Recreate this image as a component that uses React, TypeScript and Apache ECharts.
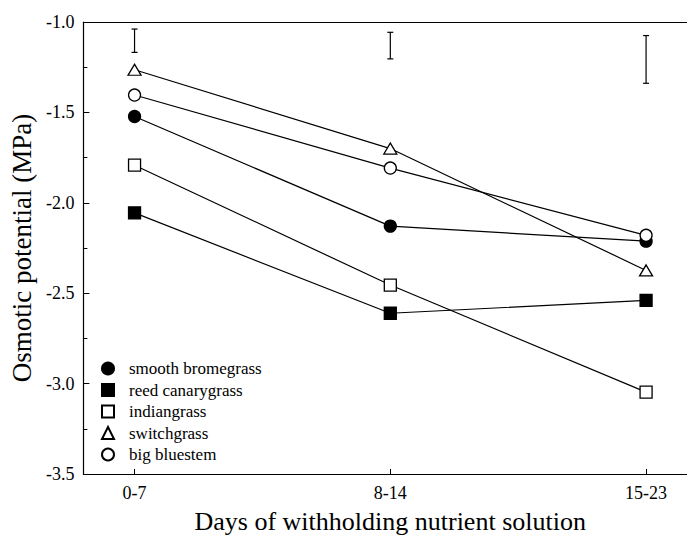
import React, { useEffect, useRef } from "react";
import * as echarts from "echarts";

const categories = ["0-7", "8-14", "15-23"];
const smoothBromegrass = [-1.523, -2.129, -2.212];
const reedCanarygrass = [-2.056, -2.611, -2.54];
const indiangrass = [-1.792, -2.455, -3.047];
const switchgrass = [-1.264, -1.7, -2.374];
const bigBluestem = [-1.404, -1.808, -2.18];
// error bars: [categoryIndex, top, bottom]
const errorBars = [
  [0, -1.039, -1.168],
  [1, -1.057, -1.204],
  [2, -1.075, -1.339],
];
const yTicks = [-3.5, -3.0, -2.5, -2.0, -1.5, -1.0];

const FONT = "Liberation Serif";

export default function App() {
  const ref = useRef<HTMLDivElement>(null);
  useEffect(() => {
    if (!ref.current) return;
    const chart = echarts.init(ref.current, undefined, { renderer: "svg" });
    const lineStyle = { color: "#000", width: 1.2 };
    const mk = (name: string, data: number[], symbol: string, filled: boolean, size: any) => ({
      name,
      type: "line",
      data: data.map((v, i) => [i, v]),
      symbol,
      symbolSize: size,
      lineStyle,
      itemStyle: { color: filled ? "#000" : "#fff", borderColor: "#000", borderWidth: 1.3 },
      z: 3,
    });
    chart.setOption({
      animation: false,
      backgroundColor: "#fff",
      grid: { left: 82, right: 0, top: 22, bottom: 53 },
      xAxis: [
        {
          type: "value",
          min: -0.2,
          max: 2.16,
          axisLine: { show: true, onZero: false, lineStyle: { color: "#000", width: 1.2 } },
          splitLine: { show: false },
          axisTick: { show: true, inside: true, length: 5, customValues: [0, 1, 2], lineStyle: { color: "#000" } },
          axisLabel: {
            customValues: [0, 1, 2],
            formatter: (v: number) => categories[Math.round(v)] ?? "",
            color: "#000",
            fontFamily: FONT,
            fontSize: 18,
            margin: 10,
          },
          name: "Days of withholding nutrient solution",
          nameLocation: "middle",
          nameGap: 34,
          nameTextStyle: { color: "#000", fontFamily: FONT, fontSize: 26, padding: [0, 0, 0, 10] },
        },
        {
          type: "value",
          position: "top",
          min: -0.2,
          max: 2.16,
          axisLine: { show: true, onZero: false, lineStyle: { color: "#000", width: 1.2 } },
          axisTick: { show: false },
          axisLabel: { show: false },
          splitLine: { show: false },
        },
      ],
      yAxis: {
        type: "value",
        min: -3.5,
        max: -1.0,
        interval: 0.5,
        axisLine: { show: true, onZero: false, lineStyle: { color: "#000", width: 1.2 } },
        splitLine: { show: false },
        axisTick: { show: true, inside: true, length: 6, lineStyle: { color: "#000" } },
        minorTick: { show: true, splitNumber: 2, length: 4, lineStyle: { color: "#000" } },
        axisLabel: {
          formatter: (v: number) => (yTicks.includes(v) ? v.toFixed(1) : ""),
          color: "#000",
          fontFamily: FONT,
          fontSize: 18,
          margin: 9,
        },
        name: "Osmotic potential (MPa)",
        nameLocation: "middle",
        nameGap: 46,
        nameTextStyle: { color: "#000", fontFamily: FONT, fontSize: 27 },
      },
      legend: {
        orient: "vertical",
        left: 101,
        top: 360,
        padding: 0,
        itemWidth: 12,
        itemHeight: 12,
        itemGap: 4.5,
        textStyle: { color: "#000", fontFamily: FONT, fontSize: 17, padding: [0, 0, 0, 10] },
        data: [
          { name: "smooth bromegrass", icon: "circle" },
          { name: "reed canarygrass", icon: "rect" },
          { name: "indiangrass", icon: "rect" },
          { name: "switchgrass", icon: "triangle" },
          { name: "big bluestem", icon: "circle" },
        ],
      },
      series: [
        mk("smooth bromegrass", smoothBromegrass, "circle", true, 12),
        mk("reed canarygrass", reedCanarygrass, "rect", true, 12),
        mk("indiangrass", indiangrass, "rect", false, 12),
        mk("switchgrass", switchgrass, "triangle", false, [13, 11]),
        mk("big bluestem", bigBluestem, "circle", false, 12),
        {
          type: "custom",
          name: "error",
          data: errorBars,
          renderItem: (params: any, api: any) => {
            const top = api.coord([api.value(0), api.value(1)]);
            const bot = api.coord([api.value(0), api.value(2)]);
            const hw = 3;
            const st = { stroke: "#000", lineWidth: 1.2 };
            return {
              type: "group",
              children: [
                { type: "line", shape: { x1: top[0], y1: top[1], x2: bot[0], y2: bot[1] }, style: st },
                { type: "line", shape: { x1: top[0] - hw, y1: top[1], x2: top[0] + hw, y2: top[1] }, style: st },
                { type: "line", shape: { x1: bot[0] - hw, y1: bot[1], x2: bot[0] + hw, y2: bot[1] }, style: st },
              ],
            };
          },
          z: 2,
        },
      ],
    });
    return () => chart.dispose();
  }, []);
  return (
    <div
      ref={ref}
      style={{ position: "fixed", left: 0, top: 0, width: 687, height: 539, background: "#fff" }}
    />
  );
}
